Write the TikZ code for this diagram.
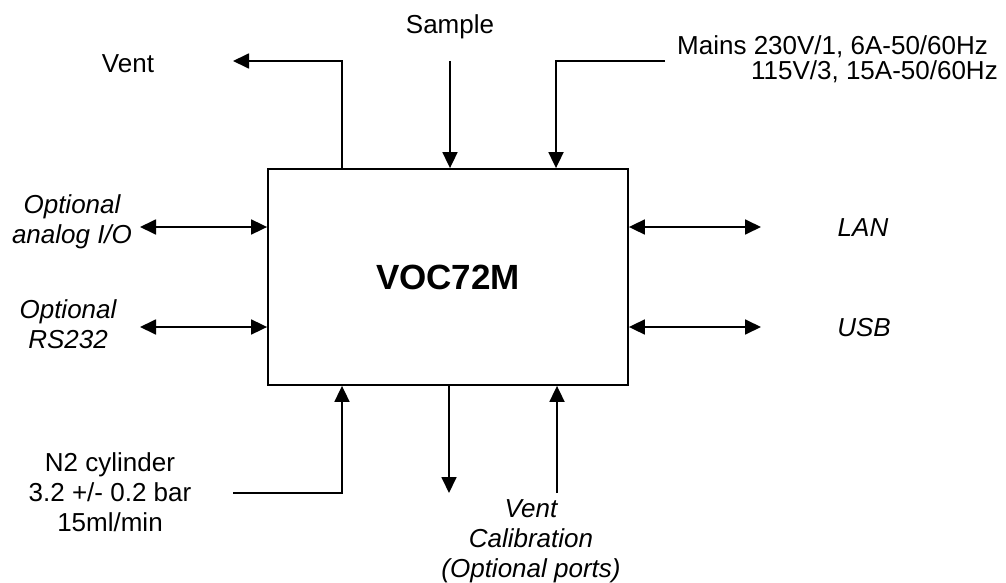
\documentclass[tikz,border=0pt]{standalone}
\usepackage{fontspec}
\setmainfont{Liberation Sans}
\usetikzlibrary{arrows.meta}

\begin{document}
\begin{tikzpicture}[x=1pt, y=-1pt,
  lbl/.style={font=\fontsize{26}{30}\selectfont, inner sep=0pt, align=center},
  optlbl/.style={lbl, font=\fontsize{26}{30}\selectfont\itshape},
  flow/.style={line width=1.8pt, -{Triangle[length=16pt, width=15pt]}},
  twoway/.style={line width=1.8pt, {Triangle[length=16pt, width=15pt]}-{Triangle[length=16pt, width=15pt]}}]
  \useasboundingbox (0,0) rectangle (1006,583);

  \node[draw, line width=1.8pt, minimum width=360pt, minimum height=216pt, inner sep=0pt,
        font=\fontsize{35}{40}\selectfont\bfseries] (voc) at (448,277) {VOC72M};

  % labels round the box (base = baseline of the last line)
  \node[lbl, anchor=base] (vent) at (128,73) {Vent};
  \node[lbl, anchor=base] (sample) at (450,34) {Sample};
  \node[lbl, anchor=base west] (mainsa) at (677,55) {Mains 230V/1, 6A-50/60Hz};
  \node[lbl, anchor=base east] (mainsb) at (998,80) {115V/3, 15A-50/60Hz};
  \node[optlbl, anchor=base] (analog) at (72,243) {Optional\\analog I/O};
  \node[optlbl, anchor=base] (rs) at (68,348) {Optional\\RS232};
  \node[optlbl, anchor=base] (lan) at (863,236) {LAN};
  \node[optlbl, anchor=base] (usb) at (864,336) {USB};
  \node[lbl, anchor=base] (ntwo) at (110,531) {N2 cylinder\\3.2 +/- 0.2 bar\\15ml/min};
  \node[optlbl, anchor=base] (calib) at (531,577) {Vent\\Calibration\\(Optional ports)};

  % free ends of the connectors
  \coordinate (ventbend) at (342,61);
  \coordinate (venttip) at (233,61);
  \coordinate (sampletop) at (450,61);
  \coordinate (mainsend) at (665,61);
  \coordinate (mainsbend) at (556,61);
  \coordinate (analogend) at (140,227);
  \coordinate (rsend) at (140,327);
  \coordinate (lanend) at (761,227);
  \coordinate (usbend) at (761,327);
  \coordinate (ntwoend) at (233,493);
  \coordinate (ntwobend) at (342,493);
  \coordinate (venttipb) at (449,493);
  \coordinate (calibend) at (557,493);

  \draw[flow] (voc.north -| ventbend) -- (ventbend) -- (venttip);
  \draw[flow] (sampletop) -- (voc.north -| sampletop);
  \draw[flow] (mainsend) -- (mainsbend) -- (voc.north -| mainsbend);
  \draw[twoway] (analogend) -- (voc.west |- analogend);
  \draw[twoway] (rsend) -- (voc.west |- rsend);
  \draw[twoway] (voc.east |- lanend) -- (lanend);
  \draw[twoway] (voc.east |- usbend) -- (usbend);
  \draw[flow] (ntwoend) -- (ntwobend) -- (voc.south -| ntwobend);
  \draw[flow] (voc.south -| venttipb) -- (venttipb);
  \draw[flow] (calibend) -- (voc.south -| calibend);
\end{tikzpicture}
\end{document}
